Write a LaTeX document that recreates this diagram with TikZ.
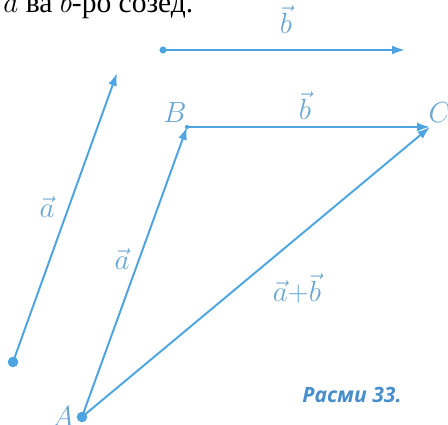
\documentclass[tikz,border=0pt]{standalone}
\usepackage{fontspec}
\setmainfont{Liberation Serif}
\newfontfamily\capfont{Open Sans}
\usepackage{tikz}
\usetikzlibrary{arrows.meta}

\definecolor{vecblue}{RGB}{78,164,224}
\definecolor{lblblue}{RGB}{104,166,212}
\definecolor{capblue}{RGB}{72,142,204}

\begin{document}
\begin{tikzpicture}[
  >={Latex[length=3.2mm,width=2.2mm]},
  vec/.style={->, vecblue, line width=1.4pt},
  lbl/.style={lblblue, font=\fontsize{22}{24}\selectfont, anchor=base},
  pt/.style={lblblue, font=\fontsize{22}{24}\selectfont, anchor=base},
  tail/.style={fill=vecblue, circle, inner sep=0pt, minimum size=#1},
]
  \useasboundingbox (0,0) rectangle (11.2,10.625);

  % cut-off line of text above the figure
  \node[anchor=base east, inner sep=0pt, font=\fontsize{21}{23}\selectfont]
    (task) at (4.84,10.31) {$\vec a$ ва $\vec b$-ро созед.};

  % free vectors
  \coordinate (a0) at (0.325,1.575);
  \coordinate (a1) at (2.925,8.8);
  \coordinate (b0) at (4.075,9.375);
  \coordinate (b1) at (10.125,9.375);

  % triangle
  \coordinate (A) at (2.05,0.2);
  \coordinate (B) at (4.675,7.45);
  \coordinate (C) at (10.75,7.45);

  \draw[vec] (a0) -- (a1);
  \draw[vec] (b0) -- (b1);
  \draw[vec] (A) -- (B);
  \draw[vec] (B) -- (C);
  \draw[vec] (A) -- (C);

  \node[tail=7.5pt] at (a0) {};
  \node[tail=5pt] at (b0) {};
  \node[tail=7.5pt] at (A) {};
  \node[tail=3pt] at (B) {};

  \node[lbl] (la) at (1.175,5.175) {$\vec a$};
  \node[lbl] (lb) at (7.15,9.775) {$\vec b$};
  \node[lbl] (lab) at (3.05,3.875) {$\vec a$};
  \node[lbl] (lbc) at (7.625,7.625) {$\vec b$};
  \node[lbl] (lsum) at (7.425,3.075) {$\vec a{+}\vec b$};

  \node[pt] (nA) at (1.575,-0.05) {$A$};
  \node[pt] (nB) at (4.375,7.55) {$B$};
  \node[pt] (nC) at (11.0,7.55) {$C$};

  \node[capblue, anchor=base, font=\capfont\bfseries\itshape\fontsize{15}{17}\selectfont]
    (cap) at (8.8,0.55) {Расми 33.};
\end{tikzpicture}
\end{document}
